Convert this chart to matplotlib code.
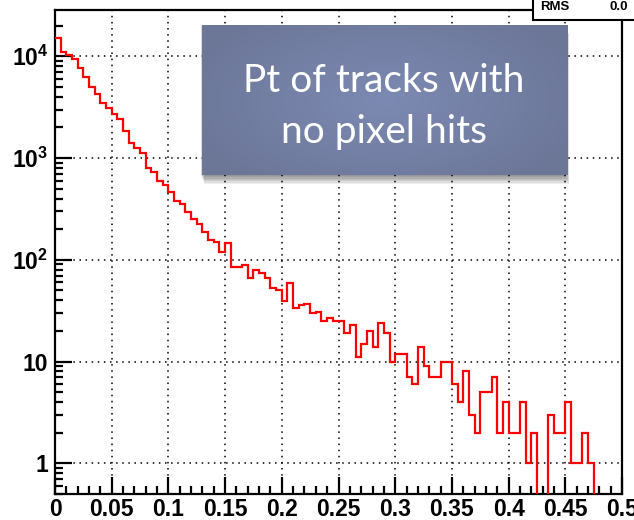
import numpy as np
import matplotlib
matplotlib.use("Agg")
import matplotlib.pyplot as plt
from matplotlib.ticker import MultipleLocator, LogLocator, FixedLocator, NullFormatter
from matplotlib.patches import Rectangle

# histogram: Pt of tracks with no pixel hits, 100 bins in [0, 0.5]
x_lo, x_hi, n_bins = 0.0, 0.5, 100
counts = [
    15000, 11000, 10200, 9500, 7700, 6300, 5000, 4300, 3450, 3100,
    2700, 2400, 1850, 1400, 1250, 1120, 790, 730, 600, 545,
    465, 382, 355, 294, 254, 225, 187, 157, 150, 120,
    146, 85, 85, 88, 67, 80, 75, 67, 53, 50,
    39, 59, 34, 36, 37, 30, 31, 25, 27, 25,
    25, 19, 23, 11, 15, 20, 14, 24, 19, 10,
    12, 12, 7, 6, 14, 9, 7, 7, 10, 10,
    6, 4, 8, 3, 2, 5, 5, 7, 2, 4,
    2, 2, 4, 1, 2, 0, 0, 3, 2, 2,
    4, 1, 1, 2, 1, 0, 0, 0, 0, 0,
]
y_ticks = [1, 10, 100, 1000, 10000]
y_tick_labels = ["1", "10", r"$10^{2}$", r"$10^{3}$", r"$10^{4}$"]

plt.rcParams["font.family"] = ["Liberation Sans", "DejaVu Sans"]
plt.rcParams["mathtext.fontset"] = "custom"
plt.rcParams["mathtext.rm"] = "Liberation Sans:bold"
plt.rcParams["mathtext.it"] = "Liberation Sans:bold"
plt.rcParams["mathtext.bf"] = "Liberation Sans:bold"

W, H = 634, 520
fig = plt.figure(figsize=(W / 100, H / 100), dpi=100)
fig.patch.set_facecolor("white")


def fx(px):
    return px / W


def fy(py):
    return 1 - py / H


ax = fig.add_axes([fx(55), fy(494), fx(622) - fx(55), fy(10) - fy(494)], zorder=0)
edges = np.linspace(x_lo, x_hi, n_bins + 1)
vals = np.array(counts, dtype=float)
vals[vals <= 0] = 1e-3  # empty bins drop below the axis like ROOT does
ax.stairs(vals, edges, color="#ff0000", lw=1.6, baseline=None, zorder=3)

ax.set_yscale("log")
ax.set_xlim(x_lo, x_hi)
ax.set_ylim(0.5, 28500)

xt = np.round(np.arange(0, 0.501, 0.05), 2)
ax.set_xticks(xt)
ax.set_xticklabels([("%g" % v) for v in xt])
ax.xaxis.set_minor_locator(MultipleLocator(0.01))
ax.yaxis.set_major_locator(FixedLocator(y_ticks))
ax.yaxis.set_minor_locator(LogLocator(base=10, subs=np.arange(2, 10), numticks=20))
ax.yaxis.set_minor_formatter(NullFormatter())
ax.set_yticklabels(y_tick_labels)

ax.tick_params(which="major", direction="in", length=12.5, width=1.6,
               labelsize=16.5, top=False, right=False)
ax.tick_params(axis="x", which="major", pad=3)
ax.tick_params(axis="y", which="major", pad=5)
ax.tick_params(which="minor", direction="in", length=6, width=1.6,
               top=False, right=False)
for lbl in ax.get_xticklabels() + ax.get_yticklabels():
    lbl.set_fontweight("bold")
for sp in ax.spines.values():
    sp.set_linewidth(1.6)

ax.grid(True, which="major", color="black", linestyle=(0, (1, 3)), lw=1.1)
ax.set_axisbelow(True)

# overlay text box with soft shadow
bx0, bx1, by0, by1 = 201.7, 566.7, 25, 175
for i in range(7):
    fig.patches.append(Rectangle((fx(bx0 - 1 + i * 0.6), fy(by1 + 1 + i * 1.3)),
                                 fx(bx1) - fx(bx0), fy(by0) - fy(by1),
                                 transform=fig.transFigure, facecolor="black",
                                 edgecolor="none", alpha=0.07, zorder=1))
bax = fig.add_axes([fx(bx0), fy(by1), fx(bx1) - fx(bx0), fy(by0) - fy(by1)], zorder=2)
gx, gy = np.meshgrid(np.linspace(-1, 1, 200), np.linspace(-1, 1, 80))
t = np.clip(np.sqrt(gx ** 2 * 0.8 + gy ** 2 * 0.5), 0, 1)[..., None]
centre = np.array([124, 137, 178]) / 255
edge = np.array([108, 119, 152]) / 255
bax.imshow(centre * (1 - t) + edge * t, aspect="auto", extent=[0, 1, 0, 1])
bax.axis("off")

fig.text(fx(384), fy(92), "Pt of tracks with", ha="center", va="baseline",
         color="white", fontsize=28, family="Lato", zorder=5)
fig.text(fx(384), fy(143), "no pixel hits", ha="center", va="baseline",
         color="white", fontsize=28, family="Lato", zorder=5)

# stats box, mostly outside the canvas
fig.patches.append(Rectangle((fx(533), fy(20)), 0.3, 0.2, transform=fig.transFigure,
                             facecolor="white", edgecolor="black", lw=1.5, zorder=6))
fig.text(fx(540), fy(10), "RMS", fontsize=9.5, fontweight="bold", zorder=7)
fig.text(fx(610), fy(10), "0.0", fontsize=9.5, fontweight="bold", zorder=7)

fig.savefig("out.png", dpi=100)
